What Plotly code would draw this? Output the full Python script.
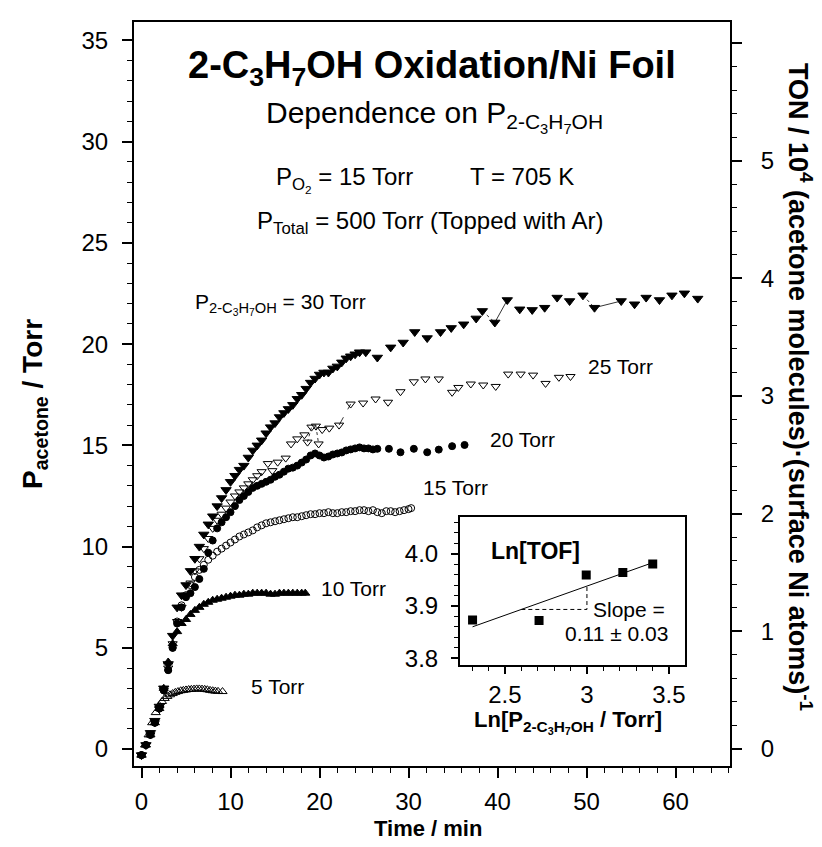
import math
import numpy as np
import plotly.graph_objects as go

# ---------------- data ----------------
t_30 = [0.0, 0.5, 1.0, 1.5, 2.0, 2.5, 3.0, 3.5, 4.0, 4.5, 5.0, 5.5, 6.0, 6.5, 7.0, 7.5, 8.0, 8.5, 9.0, 9.5,
        10.0, 10.5, 11.0, 11.5, 12.0, 12.5, 13.0, 13.5, 14.0, 14.5, 15.0, 15.5, 16.0, 16.5, 17.0, 17.5, 18.0,
        18.5, 19.0, 19.5, 20.0, 20.5, 21.0, 21.5, 22.0, 22.5, 23.0, 23.5, 24.0, 24.5, 25.2,
        26.5, 28.0, 29.4, 30.7, 32.1, 33.6, 34.8, 36.2, 37.6, 38.3, 39.7, 41.1, 42.5, 43.9, 45.3, 46.7,
        48.1, 49.6, 50.9, 53.9, 55.4, 56.7, 58.2, 59.6, 61.0, 62.5]
p_30 = [-0.3, 0.2, 0.8, 1.4, 2.1, 3.0, 4.2, 5.6, 7.0, 7.6, 8.1, 8.8, 9.4, 10.0, 10.6, 11.1, 11.5, 12.0, 12.4, 12.8,
        13.2, 13.5, 13.8, 14.0, 14.4, 14.75, 15.0, 15.25, 15.6, 15.9, 16.1, 16.4, 16.6, 16.8, 17.0, 17.3, 17.5,
        17.8, 18.1, 18.3, 18.5, 18.6, 18.6, 18.8, 18.9, 19.1, 19.3, 19.4, 19.5, 19.6, 19.6,
        19.34, 19.84, 20.08, 20.6, 20.3, 20.6, 20.8, 20.98, 21.27, 21.64, 21.07, 22.18, 21.72, 21.69, 21.8, 22.3,
        22.13, 22.41, 21.8, 22.13, 21.97, 22.3, 22.18, 22.41, 22.51, 22.25]

t_25 = [0.0, 0.5, 1.0, 1.5, 2.0, 2.5, 3.0, 3.5, 4.0, 4.5, 5.0, 5.5, 6.0, 6.5, 7.0, 7.5, 8.0, 8.5, 9.0, 9.5,
        10.0, 10.5, 11.0, 11.5, 12.0, 12.5, 13.0, 13.5, 14.2, 14.7, 15.3, 16.2, 16.8, 17.5, 18.3, 18.65, 19.1,
        19.6, 19.9, 20.3, 21.1, 22.2, 23.5, 24.9, 26.3, 27.7, 29.1, 30.6, 31.9, 33.4, 34.9, 35.6, 37.0, 38.4,
        39.8, 41.2, 42.6, 44.0, 45.4, 46.9, 48.2]
p_25 = [-0.3, 0.2, 0.7, 1.3, 2.0, 2.9, 4.0, 5.2, 6.3, 7.0, 7.6, 8.2, 8.8, 9.4, 9.9, 10.4, 10.9, 11.3, 11.6, 11.9,
        12.2, 12.5, 12.7, 12.9, 13.1, 13.3, 13.5, 13.7, 14.1, 13.75, 14.17, 14.37, 15.07, 15.32, 15.52, 15.16, 15.9,
        15.95, 15.07, 15.78, 15.85, 16.0, 17.04, 17.09, 17.29, 17.13, 17.65, 18.14, 18.28, 18.28, 17.62, 17.86, 18.03, 17.98,
        17.91, 18.52, 18.52, 18.47, 18.06, 18.36, 18.4]

t_20 = [0.0, 0.5, 1.0, 1.5, 2.0, 2.5, 3.0, 3.5, 4.0, 4.5, 5.0, 5.5, 6.0, 6.5, 7.0, 7.5, 8.0, 8.5, 9.0, 9.5,
        10.0, 10.5, 11.0, 11.5, 12.0, 12.5, 13.0, 13.5, 14.0, 14.5, 15.0, 15.5, 16.0, 16.5, 17.0, 17.5, 18.0, 18.5,
        19.0, 19.5, 20.0, 20.5, 21.0, 21.5, 22.0, 22.5, 23.0, 23.5, 24.0, 24.5, 25.0, 25.5, 26.0, 26.5,
        27.8, 29.1, 30.6, 32.1, 33.4, 34.9, 36.3]
p_20 = [-0.3, 0.2, 0.7, 1.3, 2.0, 2.9, 3.9, 5.0, 6.2, 7.0, 7.5, 7.7, 8.0, 8.4, 8.9, 9.7, 10.3, 10.9, 11.2, 11.45,
        11.7, 12.0, 12.3, 12.5, 12.7, 12.9, 13.0, 13.1, 13.2, 13.3, 13.45, 13.55, 13.7, 13.85, 13.9, 14.0, 14.15, 14.3,
        14.5, 14.6, 14.5, 14.4, 14.45, 14.55, 14.6, 14.65, 14.75, 14.8, 14.85, 14.9, 14.85, 14.85, 14.8, 14.83,
        14.83, 14.66, 14.83, 14.66, 14.79, 14.96, 15.02]

t_15 = [0.0, 0.5, 1.0, 1.5, 2.0, 2.5, 3.0, 3.5, 4.0, 4.5, 5.0, 5.5, 6.0, 6.5, 7.0, 7.5, 8.0, 8.5, 9.0, 9.5,
        10.0, 10.5, 11.0, 11.5, 12.0, 12.5, 13.0, 13.5, 14.0, 14.5, 15.0, 15.5, 16.0, 16.5, 17.0, 17.5, 18.0, 18.5,
        19.0, 19.5, 20.0, 20.5, 21.0, 21.5, 22.0, 22.5, 23.0, 23.5, 24.0, 24.5, 25.0, 25.5, 26.0, 26.5, 27.0, 27.5,
        28.0, 28.5, 29.0, 29.5, 30.0, 30.3]
p_15 = [-0.3, 0.2, 0.7, 1.3, 2.0, 2.9, 3.9, 5.0, 6.3, 7.1, 7.6, 8.1, 8.5, 8.85, 9.1, 9.35, 9.55, 9.75, 9.9, 10.05,
        10.2, 10.35, 10.5, 10.6, 10.7, 10.8, 10.95, 11.05, 11.15, 11.2, 11.25, 11.3, 11.35, 11.4, 11.45, 11.45, 11.5, 11.55,
        11.6, 11.6, 11.65, 11.65, 11.7, 11.65, 11.65, 11.7, 11.7, 11.75, 11.75, 11.8, 11.8, 11.75, 11.8, 11.7, 11.65, 11.75,
        11.75, 11.7, 11.75, 11.8, 11.85, 11.9]

t_10 = [0.0, 0.5, 1.0, 1.5, 2.0, 2.5, 3.0, 3.5, 4.0, 4.5, 5.0, 5.5, 6.0, 6.5, 7.0, 7.5, 8.0, 8.5, 9.0, 9.5,
        10.0, 10.5, 11.0, 11.5, 12.0, 12.5, 13.0, 13.5, 14.0, 14.5, 15.0, 15.5, 16.0, 16.5, 17.0, 17.5, 18.0, 18.4]
p_10 = [-0.3, 0.2, 0.7, 1.3, 2.0, 3.0, 4.3, 5.2, 5.8, 6.2, 6.4, 6.65, 6.85, 7.0, 7.15, 7.25, 7.35, 7.4, 7.45, 7.5,
        7.55, 7.6, 7.6, 7.65, 7.65, 7.7, 7.7, 7.7, 7.7, 7.65, 7.65, 7.7, 7.7, 7.7, 7.7, 7.7, 7.7, 7.7]

t_5 = [0.0, 0.4, 0.8, 1.2, 1.6, 2.0, 2.3, 2.6, 2.9, 3.2, 3.5, 3.8, 4.1, 4.4, 4.7, 5.0, 5.3, 5.6, 5.9, 6.2,
       6.5, 6.8, 7.1, 7.4, 7.7, 8.0, 8.3, 8.6, 9.1]
p_5 = [-0.3, 0.2, 0.7, 1.3, 1.8, 2.15, 2.35, 2.5, 2.6, 2.68, 2.74, 2.8, 2.84, 2.88, 2.9, 2.92, 2.94, 2.95, 2.96, 2.97,
       2.97, 2.96, 2.95, 2.93, 2.9, 2.88, 2.86, 2.85, 2.84]

# inset: Ln[TOF] vs Ln[P]
inset_pressures = [10, 15, 20, 25, 30]
inset_ln_tof = [3.873, 3.872, 3.959, 3.964, 3.980]

# line breaks drawn in the original traces (pairs of times)
seg_30_solid = [(39.7, 41.1), (50.9, 53.9)]
seg_30_dot = [(38.3, 39.7), (49.6, 50.9)]
seg_25_solid = [(22.2, 23.5)]
seg_25_dot = [(18.65, 19.1), (19.6, 19.9)]

# ---------------- layout geometry (pixels) ----------------
W, H = 822, 847
PL, PR, PT, PB = 126, 722, 12, 758   # plot area
FONT = "Liberation Sans, Arial, Helvetica, sans-serif"


def px_x(px):
    return (px - PL) / (PR - PL)


def px_y(py):
    return (PB - py) / (PB - PT)


fig = go.Figure()


def add_series(t, p, symbol, size, name, lw=1.0):
    fig.add_trace(go.Scatter(
        x=t, y=p, mode="markers", name=name,
        marker=dict(symbol=symbol, size=size, color="black",
                    line=dict(color="black", width=lw)),
        showlegend=False, hoverinfo="x+y"))


def add_segments(t, p, pairs, dash):
    xs, ys = [], []
    for a, b in pairs:
        i, j = t.index(a), t.index(b)
        xs += [t[i], t[j], None]
        ys += [p[i], p[j], None]
    fig.add_trace(go.Scatter(x=xs, y=ys, mode="lines",
                             line=dict(color="black", width=0.8, dash=dash),
                             showlegend=False, hoverinfo="skip"))


add_series(t_5, p_5, "triangle-up-open", 8, "5 Torr")
add_series(t_10, p_10, "triangle-up", 8, "10 Torr")
add_series(t_15, p_15, "circle-open", 7, "15 Torr")
add_series(t_20, p_20, "circle", 7, "20 Torr")
add_series(t_25, p_25, "triangle-down-open", 8, "25 Torr")
add_series(t_30, p_30, "triangle-down", 9, "30 Torr")
add_segments(t_30, p_30, seg_30_solid, "solid")
add_segments(t_30, p_30, seg_30_dot, "dot")
add_segments(t_25, p_25, seg_25_solid, "dash")
add_segments(t_25, p_25, seg_25_dot, "dot")

# right axis (TON) – empty trace to attach the axis
fig.add_trace(go.Scatter(x=[], y=[], yaxis="y2", showlegend=False))

# inset
ln_p = [math.log(v) for v in inset_pressures]
fig.add_trace(go.Scatter(x=ln_p, y=inset_ln_tof, mode="markers", xaxis="x2", yaxis="y3",
                         marker=dict(symbol="square", size=9, color="black"), showlegend=False))
slope, intercept = np.polyfit(ln_p, inset_ln_tof, 1)
fx = [min(ln_p), max(ln_p)]
fig.add_trace(go.Scatter(x=fx, y=[slope * v + intercept for v in fx], mode="lines",
                         xaxis="x2", yaxis="y3", line=dict(color="black", width=1),
                         showlegend=False))
run_x0, run_x1 = 2.6, 3.0
y0 = slope * run_x0 + intercept
y1 = slope * run_x1 + intercept
fig.add_trace(go.Scatter(x=[run_x0, run_x1, run_x1], y=[y0, y0, y1], mode="lines",
                         xaxis="x2", yaxis="y3", line=dict(color="black", width=1, dash="4px,3px"),
                         showlegend=False))

tick_font = dict(family=FONT, size=24, color="black")
axis_common = dict(showline=True, linecolor="black", linewidth=2, ticks="outside",
                   tickcolor="black", tickwidth=1.5, showgrid=False, zeroline=False,
                   tickfont=tick_font)

# main axis ranges from pixel calibration
x_per_px = 10 / 89.0
x_zero_px = 133.5
xr = [(PL - x_zero_px) * x_per_px, (PR - x_zero_px) * x_per_px]
y_per_px = 1 / 20.3
y_zero_px = 741
yr = [(y_zero_px - PB) * y_per_px, (y_zero_px - PT) * y_per_px]
ton_per_px = 1 / 118.0
y2r = [(y_zero_px - PB) * ton_per_px, (y_zero_px - PT) * ton_per_px]

fig.update_layout(
    width=W, height=H,
    margin=dict(l=PL, r=W - PR, t=PT, b=H - PB),
    paper_bgcolor="white", plot_bgcolor="white",
    font=dict(family=FONT, color="black"),
    xaxis=dict(range=xr, dtick=10, tick0=0, ticklen=10, mirror=True, ticklabelstandoff=3,
               minor=dict(dtick=2, ticklen=5, ticks="outside", tickcolor="black", tickwidth=1.2),
               **axis_common),
    yaxis=dict(range=yr, dtick=5, tick0=0, ticklen=10, ticklabelstandoff=9,
               minor=dict(dtick=1, ticklen=5, ticks="outside", tickcolor="black", tickwidth=1.2),
               **axis_common),
    yaxis2=dict(range=y2r, dtick=1, tick0=0, ticklen=10, overlaying="y", side="right",
                ticklabelstandoff=14, labelalias={"6": " "},
                minor=dict(dtick=0.2, ticklen=5, ticks="outside", tickcolor="black", tickwidth=1.2),
                **axis_common),
    xaxis2=dict(domain=[px_x(452), px_x(677)], anchor="y3", range=[2.226, 3.598], dtick=0.5, tick0=0,
                ticklen=7, mirror=True,
                minor=dict(dtick=0.1, ticklen=4, ticks="outside", tickcolor="black", tickwidth=1.2),
                **axis_common),
    yaxis3=dict(domain=[px_y(657), px_y(508)], anchor="x2", range=[3.7867, 4.0705], dtick=0.1,
                tick0=0, ticklen=7, mirror=True, tickformat=".1f", ticklabelstandoff=8,
                minor=dict(dtick=0.02, ticklen=4, ticks="outside", tickcolor="black", tickwidth=1.2),
                **axis_common),
)

SUB_IPA = "2-C<sub>3</sub>H<sub>7</sub>OH"
annots = [
    ("<b>2-C<sub>3</sub>H<sub>7</sub>OH Oxidation/Ni Foil</b>", 424, 58, 38, 0),
    ("Dependence on P<sub>" + SUB_IPA + "</sub>", 426, 107, 30, 0),
    ("P<sub>O<sub>2</sub></sub> = 15 Torr", 336, 170, 24, 0),
    ("T = 705 K", 514, 167, 24, 0),
    ("P<sub>Total</sub> = 500 Torr (Topped with Ar)", 422, 213, 24, 0),
    ("P<sub>" + SUB_IPA + "</sub> = 30 Torr", 272, 295, 21, 0),
    ("25 Torr", 612, 357, 21, 0),
    ("20 Torr", 514, 431, 21, 0),
    ("15 Torr", 447, 479, 21, 0),
    ("10 Torr", 345, 580, 21, 0),
    ("5 Torr", 269, 678, 21, 0),
    ("<b>Ln[TOF]</b>", 527, 542, 23, 0),
    ("Slope =", 621, 601, 21, 0),
    ("0.11 ± 0.03", 608, 625, 21, 0),
    ("<b>Ln[P<sub>" + SUB_IPA + "</sub> / Torr]</b>", 560, 714, 22, 0),
    ("<b>Time / min</b>", 420, 821, 22, 0),
    ("<b>P<sub>acetone</sub> / Torr</b>", 27, 395, 28, -90),
    ("<b>TON / 10<sup>4</sup> (acetone molecules)·(surface Ni atoms)<sup>-1</sup></b>", 792, 378, 27, 90),
]
for text, x, y, size, ang in annots:
    fig.add_annotation(text=text, x=px_x(x), y=px_y(y), xref="paper", yref="paper",
                       showarrow=False, xanchor="center", yanchor="middle", textangle=ang,
                       font=dict(family=FONT, size=size, color="black"))

fig.write_html("out.html")
